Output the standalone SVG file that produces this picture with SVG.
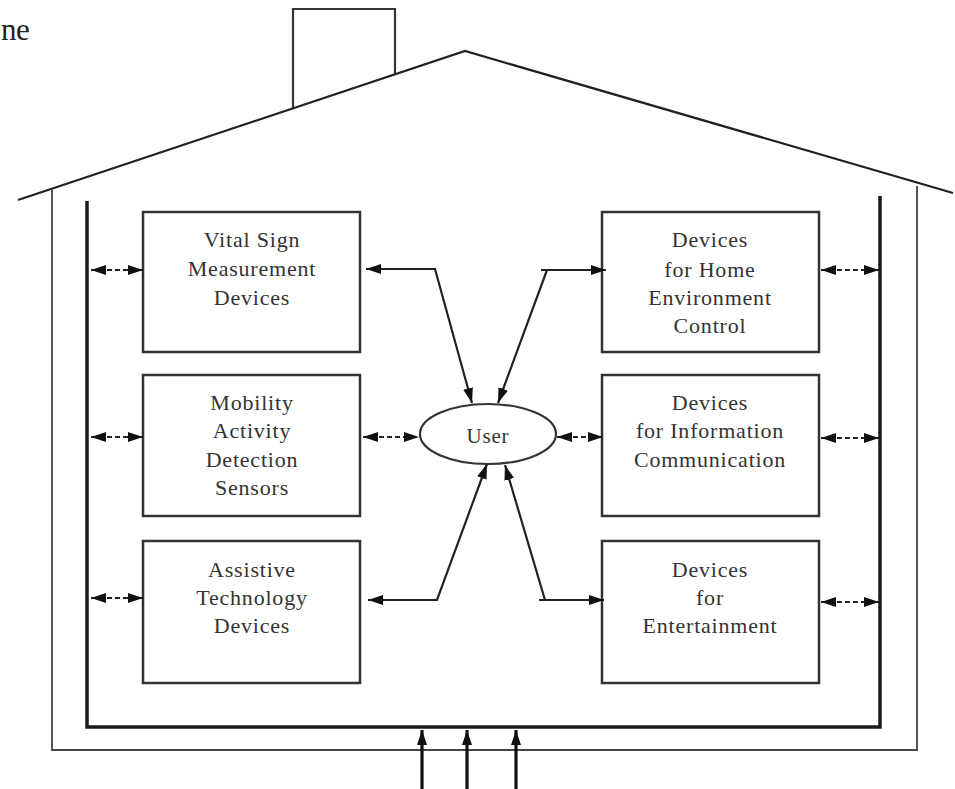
<svg xmlns="http://www.w3.org/2000/svg" width="955" height="789" viewBox="0 0 955 789">
<defs>
<style>
.txt{font-family:"Liberation Serif","Times New Roman",serif;font-size:22px;fill:#333;text-anchor:middle;letter-spacing:0.8px}
.box{fill:#fff;stroke:#333;stroke-width:2.5}
.thin{fill:none;stroke:#444;stroke-width:1.8}
.thick{fill:none;stroke:#1a1a1a;stroke-width:3.5}
.conn{fill:none;stroke:#222;stroke-width:2.2}
.dash{fill:none;stroke:#222;stroke-width:1.8;stroke-dasharray:5,3}
.up{fill:none;stroke:#111;stroke-width:3.2}
</style>
<marker id="ah" markerUnits="userSpaceOnUse" markerWidth="16" markerHeight="12" refX="15" refY="6" orient="auto-start-reverse">
<path d="M0,1 L15,6 L0,11 Z" fill="#111"/>
</marker>
</defs>
<rect width="955" height="789" fill="#fff"/>
<g id="house">
<polyline class="thin" points="18,200 465,51 953,193" style="stroke-width:2.2;stroke:#222"/>
<polyline class="thin" points="293,108 293,9 395,9 395,74" style="stroke-width:2.2;stroke:#333"/>
<polyline class="thin" points="52,190 52,750 917,750 917,186"/>
<polyline class="thick" points="87,201 87,727 880,727 880,196"/>
</g>
<text class="txt" x="1" y="40" style="text-anchor:start;font-size:31px;letter-spacing:-0.5px;fill:#222">ne</text>
<g id="vital">
<rect class="box" x="143" y="212" width="217" height="140"/>
<text class="txt" x="252" y="247">Vital Sign</text>
<text class="txt" x="252" y="276">Measurement</text>
<text class="txt" x="252" y="305">Devices</text>
</g>
<g id="mobility">
<rect class="box" x="143" y="375" width="217" height="141"/>
<text class="txt" x="252" y="410">Mobility</text>
<text class="txt" x="252" y="438">Activity</text>
<text class="txt" x="252" y="467">Detection</text>
<text class="txt" x="252" y="495">Sensors</text>
</g>
<g id="assistive">
<rect class="box" x="143" y="541" width="217" height="142"/>
<text class="txt" x="252" y="577">Assistive</text>
<text class="txt" x="252" y="605">Technology</text>
<text class="txt" x="252" y="633">Devices</text>
</g>
<g id="homeenv">
<rect class="box" x="602" y="212" width="217" height="140"/>
<text class="txt" x="710" y="247">Devices</text>
<text class="txt" x="710" y="277">for Home</text>
<text class="txt" x="710" y="305">Environment</text>
<text class="txt" x="710" y="333">Control</text>
</g>
<g id="infocomm">
<rect class="box" x="602" y="375" width="217" height="141"/>
<text class="txt" x="710" y="410">Devices</text>
<text class="txt" x="710" y="438">for Information</text>
<text class="txt" x="710" y="467">Communication</text>
</g>
<g id="entertainment">
<rect class="box" x="602" y="541" width="217" height="142"/>
<text class="txt" x="710" y="577">Devices</text>
<text class="txt" x="710" y="605">for</text>
<text class="txt" x="710" y="633">Entertainment</text>
</g>
<g id="user">
<ellipse cx="488" cy="434" rx="68" ry="30" fill="#fff" stroke="#333" stroke-width="2.2"/>
<text class="txt" x="488" y="443" style="font-size:21px">User</text>
</g>
<g id="connectors">
<line class="dash" x1="91" y1="270" x2="143" y2="270" marker-start="url(#ah)" marker-end="url(#ah)"/>
<line class="dash" x1="91" y1="437" x2="143" y2="437" marker-start="url(#ah)" marker-end="url(#ah)"/>
<line class="dash" x1="91" y1="598" x2="143" y2="598" marker-start="url(#ah)" marker-end="url(#ah)"/>
<line class="dash" x1="821" y1="270" x2="879" y2="270" marker-start="url(#ah)" marker-end="url(#ah)"/>
<line class="dash" x1="821" y1="438" x2="879" y2="438" marker-start="url(#ah)" marker-end="url(#ah)"/>
<line class="dash" x1="821" y1="602" x2="879" y2="602" marker-start="url(#ah)" marker-end="url(#ah)"/>
<line class="dash" x1="363" y1="437" x2="419" y2="437" marker-start="url(#ah)" marker-end="url(#ah)"/>
<line class="dash" x1="557" y1="437" x2="603" y2="437" marker-start="url(#ah)" marker-end="url(#ah)"/>
<polyline class="conn" points="366,269 435,269 472,403" marker-start="url(#ah)" marker-end="url(#ah)"/>
<polyline class="conn" points="541,270 547,270 498,403" marker-end="url(#ah)"/>
<line class="conn" x1="547" y1="270" x2="606" y2="270" marker-end="url(#ah)"/>
<polyline class="conn" points="368,600 437,600 487,464" marker-start="url(#ah)" marker-end="url(#ah)"/>
<polyline class="conn" points="545,600 505,465" marker-end="url(#ah)"/>
<line class="conn" x1="539" y1="600" x2="604" y2="600" marker-end="url(#ah)"/>
<line class="up" x1="422" y1="789" x2="422" y2="730" marker-end="url(#ah)"/>
<line class="up" x1="467" y1="789" x2="467" y2="730" marker-end="url(#ah)"/>
<line class="up" x1="516" y1="789" x2="516" y2="730" marker-end="url(#ah)"/>
</g>
</svg>
